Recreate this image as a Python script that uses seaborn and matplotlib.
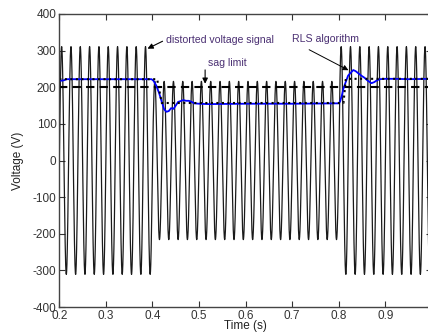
import numpy as np
import pandas as pd
import matplotlib
matplotlib.use("Agg")
import matplotlib.pyplot as plt
import seaborn as sns

# ---- data ----
freq_hz = 50
seg_start = [0.2, 0.4, 0.8]
seg_end = [0.4, 0.8, 1.0]
seg_peak = [311, 216, 311]          # peak of distorted voltage in each segment

sag_limit = 200

ref_t = [0.2, 0.41, 0.42, 0.81, 0.815, 1.0]
ref_v = [222, 222, 157, 157, 223, 223]

rls_t = [0.2, 0.205, 0.21, 0.215, 0.398, 0.402, 0.408, 0.414, 0.42, 0.425, 0.43, 0.435,
         0.44, 0.445, 0.45, 0.455, 0.46, 0.466, 0.472, 0.478, 0.484, 0.49, 0.5, 0.52,
         0.6, 0.7, 0.8, 0.803, 0.807, 0.81, 0.815, 0.82, 0.826, 0.831, 0.836, 0.842,
         0.848, 0.855, 0.862, 0.87, 0.876, 0.882, 0.888, 0.9, 0.92, 0.95, 1.0]
rls_v = [218, 218, 219, 222, 222, 218, 205, 185, 160, 140, 133, 135,
         143, 141, 150, 160, 162, 165, 163, 163, 160, 156, 155, 154,
         155, 155, 156, 162, 180, 197, 215, 232, 240, 247, 244, 238,
         232, 226, 218, 211, 214, 219, 222, 223, 223, 222, 223]

x_ticks = [0.2, 0.3, 0.4, 0.5, 0.6, 0.7, 0.8, 0.9, 1.0]
x_ticklabels = ["0.2", "0.3", "0.4", "0.5", "0.6", "0.7", "0.8", "0.9", ""]

# distorted voltage waveform from the segment parameters
t = np.linspace(0.2, 1.0, 24001)
amp = np.select([(t >= s) & (t < e) for s, e in zip(seg_start, seg_end)], seg_peak, default=seg_peak[-1])
wave = pd.DataFrame({"t": t, "v": amp * np.sin(2 * np.pi * freq_hz * t)})
ref = pd.DataFrame({"t": ref_t, "v": ref_v})
rls = pd.DataFrame({"t": rls_t, "v": rls_v})

sns.set_theme(style="white")
plt.rcParams["font.family"] = ["Liberation Sans", "DejaVu Sans"]
plt.rcParams["axes.unicode_minus"] = False

fig = plt.figure(figsize=(4.28, 3.36), dpi=100)
ax = fig.add_axes([59.3 / 428, 29 / 336, (432 - 59.3) / 428, 293 / 336])

sns.lineplot(data=wave, x="t", y="v", ax=ax, color="#1a1a1a", linewidth=0.9, estimator=None)
ax.axhline(sag_limit, color="black", linewidth=1.5, dashes=(4, 2.5))
sns.lineplot(data=rls, x="t", y="v", ax=ax, color="#0000ff", linewidth=1.3, estimator=None)
sns.lineplot(data=ref, x="t", y="v", ax=ax, color="black", linewidth=1.5, estimator=None,
             linestyle=":")

ax.set_xlim(0.2, 1.0)
ax.set_ylim(-400, 400)
ax.set_xticks(x_ticks)
ax.set_xticklabels(x_ticklabels)
ax.set_yticks(range(-400, 401, 100))
ax.tick_params(direction="in", length=4, width=0.8, labelsize=8.5, colors="#333333",
               top=True, right=True, bottom=True, left=True, pad=2)
for sp in ax.spines.values():
    sp.set_color("#444444")
    sp.set_linewidth(1.0)

ax.set_xlabel("Time (s)", fontsize=8.5, labelpad=-1, color="#222222")
ax.set_ylabel("Voltage (V)", fontsize=8.5, labelpad=6, color="#222222")

txt_col = "#4a2f72"
ax.text(0.429, 329, "distorted voltage signal", fontsize=7.6, color=txt_col, va="center", ha="left")
ax.annotate("", xy=(0.384, 302), xytext=(0.427, 329),
            arrowprops=dict(arrowstyle="-|>", color="black", lw=0.8, mutation_scale=8))
ax.text(0.52, 265, "sag limit", fontsize=7.6, color=txt_col, va="center", ha="left")
ax.annotate("", xy=(0.513, 202), xytext=(0.513, 255),
            arrowprops=dict(arrowstyle="-|>", color="black", lw=0.8, mutation_scale=8))
ax.text(0.699, 331, "RLS algorithm", fontsize=7.6, color=txt_col, va="center", ha="left")
ax.annotate("", xy=(0.826, 243), xytext=(0.731, 306),
            arrowprops=dict(arrowstyle="-|>", color="black", lw=0.7, mutation_scale=8))

fig.savefig("out.png", dpi=100)
